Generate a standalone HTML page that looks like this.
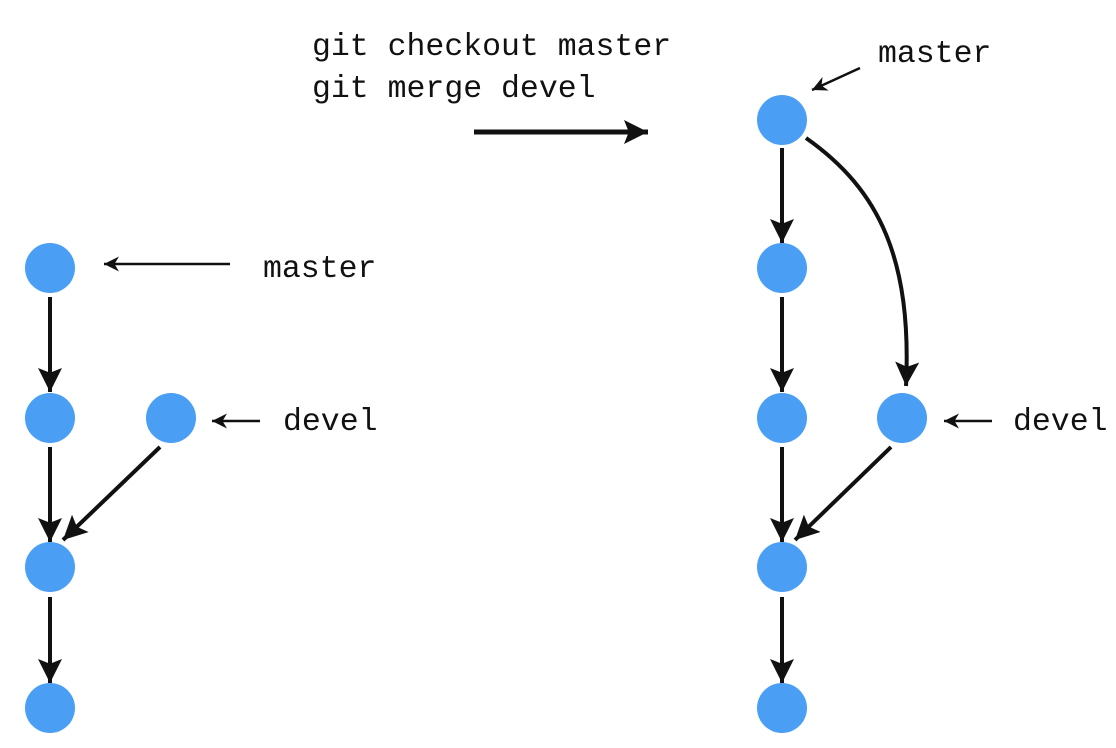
<!DOCTYPE html>
<html><head><style>
body{margin:0;width:1116px;height:748px;background:#fff;overflow:hidden}
svg{position:absolute;left:0;top:0}
text{font-family:"Liberation Mono",monospace;font-size:31.5px;fill:#111}
</style></head><body>
<svg width="1116" height="748" viewBox="0 0 1116 748">
<defs>
<marker id="s" viewBox="0 0 10 10" refX="10" refY="5" markerWidth="15" markerHeight="15" orient="auto" markerUnits="userSpaceOnUse">
<path d="M0,0 L10,5 L0,10 L3,5z" fill="#111"/></marker>
<marker id="b" viewBox="0 0 10 10" refX="10" refY="5" markerWidth="24" markerHeight="24" orient="auto" markerUnits="userSpaceOnUse">
<path d="M0,0 L10,5 L0,10 L2,5z" fill="#111"/></marker>
</defs>
<g stroke="#111" stroke-width="4" fill="none">
<path d="M50,297 L50,392" marker-end="url(#b)"/>
<path d="M50,447 L50,542" marker-end="url(#b)"/>
<path d="M160,447 L63,540" marker-end="url(#b)"/>
<path d="M50,597 L50,683" marker-end="url(#b)"/>
<path d="M782,148 L782,243" marker-end="url(#b)"/>
<path d="M782,297 L782,392" marker-end="url(#b)"/>
<path d="M782,447 L782,542" marker-end="url(#b)"/>
<path d="M891,447 L795,540" marker-end="url(#b)"/>
<path d="M782,597 L782,683" marker-end="url(#b)"/>
<path d="M806,138 C880,190 912,260 906,386" marker-end="url(#b)"/>
</g>
<g stroke="#111" stroke-width="2.5" fill="none">
<path d="M230,264 L104,264" marker-end="url(#s)"/>
<path d="M260,421 L212,421" marker-end="url(#s)"/>
<path d="M992,421 L944,421" marker-end="url(#s)"/>
<path d="M860,68 L812,90" marker-end="url(#s)"/>
</g>
<path d="M474,132 L648,132" stroke="#111" stroke-width="5" marker-end="url(#b)"/>
<g fill="#4A9FF5">
<circle cx="50" cy="268" r="25"/><circle cx="50" cy="418" r="25"/><circle cx="171" cy="418" r="25"/>
<circle cx="50" cy="567" r="25"/><circle cx="50" cy="708" r="25"/>
<circle cx="782" cy="120" r="25"/><circle cx="782" cy="268" r="25"/><circle cx="782" cy="418" r="25"/>
<circle cx="902" cy="418" r="25"/><circle cx="782" cy="567" r="25"/><circle cx="782" cy="708" r="25"/>
</g>
<text x="263" y="277">master</text>
<text x="283" y="430">devel</text>
<text x="1013" y="430">devel</text>
<text x="878" y="62">master</text>
<text x="312" y="55">git checkout master</text>
<text x="312" y="97">git merge devel</text>
</svg>
</body></html>
